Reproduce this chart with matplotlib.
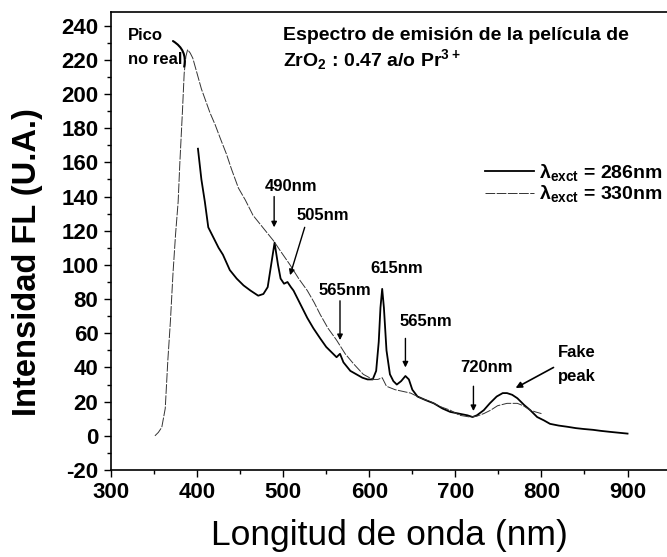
import matplotlib
matplotlib.use('Agg')
import matplotlib.pyplot as plt
from matplotlib.lines import Line2D
from matplotlib.ticker import MultipleLocator

plt.rcParams['font.family'] = ['Liberation Sans', 'DejaVu Sans']
plt.rcParams['mathtext.default'] = 'regular'
plt.rcParams['axes.unicode_minus'] = False

# emission spectrum, excitation at 286 nm (solid)
wl_286 = [401, 405, 409, 413, 419, 425, 430, 438, 446, 454, 462, 471, 477, 482,
          486, 490, 494, 497, 501, 505, 509, 512, 520, 528, 535, 543, 550, 558,
          562, 566, 570, 578, 585, 592, 598, 604, 608, 611, 613, 615, 617, 620,
          624, 628, 632, 637, 642, 646, 650, 656, 665, 675, 685, 694, 704, 714,
          720, 725, 733, 740, 748, 755, 760, 766, 772, 780, 787, 795, 803, 810,
          820, 830, 840, 849, 860, 869, 880, 890, 900]
fl_286 = [168, 150, 137, 122, 116, 110, 106, 97, 92, 88, 85, 82, 83, 87,
          100, 113, 100, 92, 89, 90, 87, 85, 77, 69, 63, 57, 52, 48,
          46, 48, 43, 38, 36, 34, 33, 33, 38, 55, 75, 86, 75, 50,
          36, 32, 30, 32, 35, 33, 27, 23, 21, 19, 16, 14, 13, 12,
          11, 12, 15, 19, 23, 25, 25, 24, 22, 18, 15, 11, 9, 7,
          6, 5.3, 4.5, 4, 3.5, 2.9, 2.3, 1.8, 1.3]

# emission spectrum, excitation at 330 nm (thin)
wl_330 = [351, 355, 359, 363, 366, 369, 372, 375, 378, 380, 383, 385, 387, 389,
          392, 395, 400, 405, 410, 415, 421, 427, 434, 440, 448, 456, 465, 473,
          481, 489, 497, 508, 518, 528, 536, 543, 552, 562, 572, 582, 593, 604,
          610, 615, 620, 630, 648, 660, 671, 683, 694, 705, 717, 725, 733, 741,
          749, 760, 772, 779, 787, 793, 800]
fl_330 = [0, 2, 5, 16, 44, 67, 95, 118, 137, 160, 190, 212, 222, 226,
          224, 221, 212, 203, 196, 189, 182, 174, 165, 156, 145, 138, 129, 124,
          119, 114, 108, 100, 92, 85, 78, 71, 63, 56, 48, 42, 36, 33,
          33, 34, 29, 27, 25, 22, 20, 17, 15, 12, 11, 11.5, 13, 15,
          17.6, 19, 19, 17.6, 15, 14, 13]

legend_labels = ['λ$_{exct}$ = 286nm', 'λ$_{exct}$ = 330nm']

# (text, text x, text y, arrow tail, arrow head)
peak_notes = [
    ('490nm', 479, 146, (489.5, 140), (489.5, 122)),
    ('505nm', 516, 129, (525, 122), (508, 94)),
    ('565nm', 541, 85, (566, 79), (566, 56)),
    ('615nm', 601, 98, None, None),
    ('565nm', 635, 67, (642, 57), (642, 40)),
    ('720nm', 706, 40, (721, 29), (721, 14.5)),
]

fig = plt.figure(figsize=(6.67, 5.57), dpi=100)
ax = fig.add_axes([111/667, 87/557, 557/667, 458/557])

ax.plot(wl_286, fl_286, color='black', lw=1.3)
ax.plot(wl_330, fl_330, color='#333333', lw=0.7, linestyle=(0, (10, 1.5)))

ax.set_xlim(300, 947)
ax.set_ylim(-20, 248)
ax.xaxis.set_major_locator(MultipleLocator(100))
ax.xaxis.set_minor_locator(MultipleLocator(50))
ax.yaxis.set_major_locator(MultipleLocator(20))
ax.yaxis.set_minor_locator(MultipleLocator(10))
ax.tick_params(which='major', length=5, width=1, direction='out', pad=4,
               labelsize=16)
ax.tick_params(which='minor', length=3, width=1, direction='out')
for lab in ax.get_xticklabels() + ax.get_yticklabels():
    lab.set_fontweight('bold')
ax.spines['right'].set_visible(False)
for s in ['left', 'bottom', 'top']:
    ax.spines[s].set_linewidth(1.2)

ax.set_xlabel('Longitud de onda (nm)', fontsize=25.5, labelpad=11)
ax.set_ylabel('Intensidad FL (U.A.)', fontsize=23.5, fontweight='bold')
ax.yaxis.set_label_coords(-0.122, 0.454)

note_kw = dict(fontsize=12, fontweight='bold', ha='left', va='center')
for txt, tx, ty, tail, head in peak_notes:
    ax.text(tx, ty, txt, **note_kw)
    if tail is not None:
        ax.annotate('', xy=head, xytext=tail,
                    arrowprops=dict(arrowstyle='-|>', color='black', lw=1,
                                    mutation_scale=8, shrinkA=0, shrinkB=0))

ax.text(819, 49, 'Fake', **note_kw)
ax.text(819, 35, 'peak', **note_kw)
ax.annotate('', xy=(770, 28), xytext=(814, 40),
            arrowprops=dict(arrowstyle='-|>', color='black', lw=1.2,
                            mutation_scale=9, shrinkA=0, shrinkB=0))

ax.text(320, 234, 'Pico', **note_kw)
ax.text(320, 220, 'no real', **note_kw)
ax.annotate('', xy=(385, 216), xytext=(372, 231),
            arrowprops=dict(arrowstyle='-', color='black', lw=1.5,
                            connectionstyle='arc3,rad=-0.35', shrinkA=0, shrinkB=0))

title_kw = dict(note_kw, fontsize=14)
ax.text(500, 234, 'Espectro de emisión de la película de', **title_kw)
ax.text(500, 220, 'ZrO$_2$ : 0.47 a/o Pr$^{3+}$', **title_kw)

handles = [Line2D([], [], color='black', lw=1.3),
           Line2D([], [], color='#333333', lw=0.7, linestyle=(0, (10, 1.5)))]
ax.legend(handles, legend_labels, loc='center left', frameon=False,
          bbox_to_anchor=(485/667, 1 - 183/557), bbox_transform=fig.transFigure,
          prop={'weight': 'bold', 'size': 14}, handlelength=2.5,
          handletextpad=0.3, labelspacing=0.05, borderpad=0, borderaxespad=0)

fig.savefig('out.png', dpi=100)
